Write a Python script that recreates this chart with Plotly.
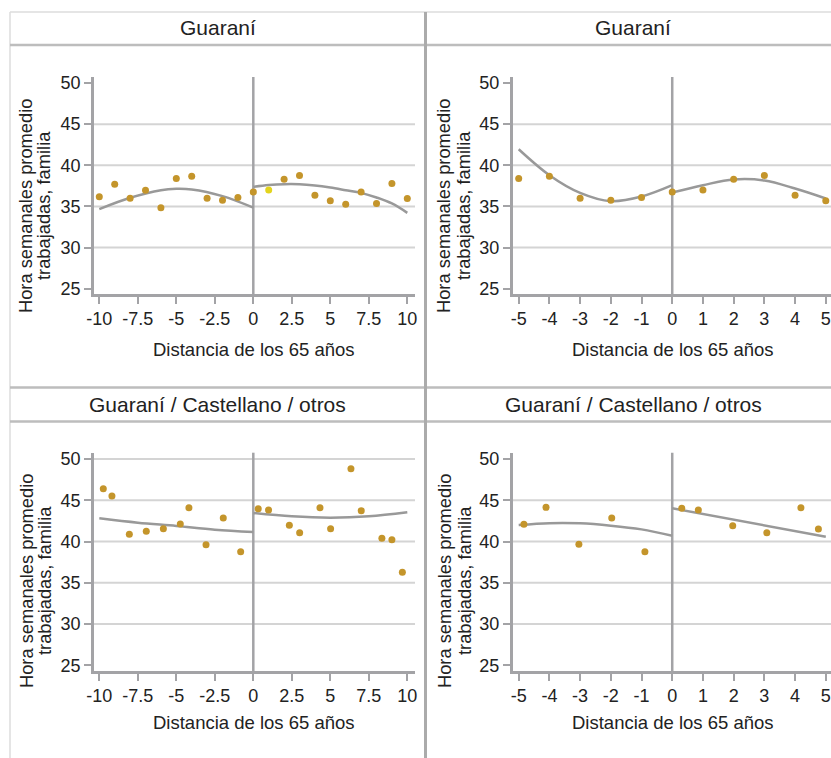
import plotly.graph_objects as go

# ---------------- data ----------------
PANEL_TITLES = ["Guaraní", "Guaraní", "Guaraní / Castellano / otros", "Guaraní / Castellano / otros"]
Y_TITLE_LINES = ["Hora semanales promedio", "trabajadas, familia"]
X_TITLE = "Distancia de los 65 años"

Y_TICKS = [25, 30, 35, 40, 45, 50]
X_TICKS_WIDE = [-10, -7.5, -5, -2.5, 0, 2.5, 5, 7.5, 10]
X_TICKTEXT_WIDE = ["-10", "-7.5", "-5", "-2.5", "0", "2.5", "5", "7.5", "10"]
X_TICKS_NARROW = [-5, -4, -3, -2, -1, 0, 1, 2, 3, 4, 5]
X_TICKTEXT_NARROW = ["-5", "-4", "-3", "-2", "-1", "0", "1", "2", "3", "4", "5"]

# Panel 1: Guaraní, bandwidth 10
P1_X = [-10, -9, -8, -7, -6, -5, -4, -3, -2, -1, 0, 1, 2, 3, 4, 5, 6, 7, 8, 9, 10]
P1_Y = [36.17, 37.70, 36.00, 36.98, 34.83, 38.40, 38.68, 36.00, 35.76, 36.09,
        36.77, 37.00, 38.30, 38.76, 36.37, 35.68, 35.28, 36.77, 35.36, 37.79, 35.97]
P1_HIGHLIGHT_X = [1]
P1_FIT_L_X = [-10, -8, -6, -5, -4, -2, 0]
P1_FIT_L_Y = [34.67, 36.05, 36.98, 37.14, 37.06, 36.25, 34.85]
P1_FIT_R_X = [0, 1, 2, 3, 4, 5, 6, 7, 8, 9, 10]
P1_FIT_R_Y = [37.38, 37.60, 37.71, 37.70, 37.55, 37.30, 36.98, 36.65, 36.09, 35.36, 34.22]

# Panel 2: Guaraní, bandwidth 5
P2_X = [-5, -4, -3, -2, -1, 0, 1, 2, 3, 4, 5]
P2_Y = [38.40, 38.68, 36.00, 35.76, 36.09, 36.77, 37.00, 38.30, 38.76, 36.37, 35.68]
P2_FIT_L_X = [-5, -4, -3, -2, -1, 0]
P2_FIT_L_Y = [41.95, 38.80, 36.65, 35.64, 36.20, 37.58]
P2_FIT_R_X = [0, 1, 2, 3, 4, 5]
P2_FIT_R_Y = [36.70, 37.58, 38.27, 38.15, 37.18, 35.97]

# Panel 3: Guaraní / Castellano / otros, bandwidth 10
P3_X = [-9.74, -9.18, -8.05, -6.95, -5.84, -4.74, -4.18, -3.07, -1.95, -0.82,
        0.32, 0.99, 2.34, 3.01, 4.33, 5.02, 6.34, 7.01, 8.35, 9.00, 9.68]
P3_Y = [46.40, 45.52, 40.87, 41.23, 41.55, 42.12, 44.10, 39.62, 42.85, 38.77,
        43.98, 43.82, 41.96, 41.07, 44.10, 41.55, 48.83, 43.74, 40.38, 40.22, 36.27]
P3_FIT_L_X = [-10, -7.5, -5, -2.5, 0]
P3_FIT_L_Y = [42.81, 42.28, 41.88, 41.43, 41.15]
P3_FIT_R_X = [0, 2.5, 5, 7.5, 10]
P3_FIT_R_Y = [43.45, 43.05, 42.89, 43.05, 43.54]

# Panel 4: Guaraní / Castellano / otros, bandwidth 5
P4_X = [-4.83, -4.11, -3.04, -1.97, -0.89, 0.31, 0.85, 1.97, 3.08, 4.19, 4.76]
P4_Y = [42.08, 44.14, 39.66, 42.85, 38.77, 44.02, 43.82, 41.92, 41.07, 44.10, 41.52]
P4_FIT_L_X = [-5, -4, -3, -2, -1, 0]
P4_FIT_L_Y = [42.00, 42.22, 42.20, 41.92, 41.47, 40.70]
P4_FIT_R_X = [0, 5]
P4_FIT_R_Y = [44.02, 40.58]

GRID_TOP = [30, 35, 40, 45]
GRID_P3 = [30, 35, 40, 45, 50]

# ---------------- styling / layout ----------------
W, H = 831, 758
FONT = "Liberation Sans, Arial, sans-serif"
GOLD = "#c4952b"
YELLOW = "#e3d41d"
CURVE = "#999999"
AXIS = "#a3a3a6"
GRID = "#d4d4d4"
FRAME_LIGHT = "#dcdcdc"
FRAME_MID = "#bdbdbd"
TEXT = "#222222"


def fx(p):
    return p / W


def fy(p):
    return 1 - p / H


panels = [
    dict(sfx="", xs=P1_X, ys=P1_Y, fits=[(P1_FIT_L_X, P1_FIT_L_Y), (P1_FIT_R_X, P1_FIT_R_Y)],
         xdom=(94, 415), ydom=(77, 294), xr=[-10.344, 10.5], yr=[24.36, 50.73],
         ticks=(X_TICKS_WIDE, X_TICKTEXT_WIDE), grid=GRID_TOP, hl=P1_HIGHLIGHT_X,
         title=PANEL_TITLES[0], tcx=217.5, tcy=28, xt=(254, 350), yt=(26, 44, 206)),
    dict(sfx="2", xs=P2_X, ys=P2_Y, fits=[(P2_FIT_L_X, P2_FIT_L_Y), (P2_FIT_R_X, P2_FIT_R_Y)],
         xdom=(512.7, 831), ydom=(77, 294), xr=[-5.195, 5.17], yr=[24.36, 50.73],
         ticks=(X_TICKS_NARROW, X_TICKTEXT_NARROW), grid=GRID_TOP, hl=[],
         title=PANEL_TITLES[1], tcx=633, tcy=28, xt=(672.5, 350), yt=(444, 464, 206)),
    dict(sfx="3", xs=P3_X, ys=P3_Y, fits=[(P3_FIT_L_X, P3_FIT_L_Y), (P3_FIT_R_X, P3_FIT_R_Y)],
         xdom=(94, 415), ydom=(452.7, 671), xr=[-10.344, 10.5], yr=[24.31, 50.76],
         ticks=(X_TICKS_WIDE, X_TICKTEXT_WIDE), grid=GRID_P3, hl=[],
         title=PANEL_TITLES[2], tcx=217.5, tcy=404, xt=(254, 722), yt=(26, 44, 581)),
    dict(sfx="4", xs=P4_X, ys=P4_Y, fits=[(P4_FIT_L_X, P4_FIT_L_Y), (P4_FIT_R_X, P4_FIT_R_Y)],
         xdom=(512.7, 831), ydom=(452.7, 671), xr=[-5.195, 5.17], yr=[24.31, 50.76],
         ticks=(X_TICKS_NARROW, X_TICKTEXT_NARROW), grid=GRID_TOP, hl=[],
         title=PANEL_TITLES[3], tcx=633, tcy=404, xt=(672.5, 722), yt=(444, 464, 581)),
]

fig = go.Figure()
shapes = []
annotations = []
layout_axes = {}

for p in panels:
    s = p["sfx"]
    xa, ya = "x" + s, "y" + s
    for fxs, fys in p["fits"]:
        fig.add_trace(go.Scatter(x=fxs, y=fys, mode="lines", xaxis=xa, yaxis=ya,
                                 line=dict(color=CURVE, width=2.5, shape="spline", smoothing=1.0),
                                 hoverinfo="skip", showlegend=False, cliponaxis=False))
    colors = [YELLOW if x in p["hl"] else GOLD for x in p["xs"]]
    fig.add_trace(go.Scatter(x=p["xs"], y=p["ys"], mode="markers", xaxis=xa, yaxis=ya,
                             marker=dict(color=colors, size=7, line=dict(width=0)),
                             showlegend=False, cliponaxis=False))

    layout_axes["xaxis" + s] = dict(
        domain=[fx(p["xdom"][0]), fx(p["xdom"][1])], range=p["xr"], anchor=ya,
        tickmode="array", tickvals=p["ticks"][0], ticktext=p["ticks"][1],
        showline=True, linecolor=AXIS, linewidth=2.5, ticks="outside", ticklen=7,
        tickwidth=2, tickcolor=AXIS, showgrid=False, zeroline=False, automargin=False,
        tickfont=dict(family=FONT, size=18, color=TEXT), fixedrange=True)
    layout_axes["yaxis" + s] = dict(
        domain=[fy(p["ydom"][1]), fy(p["ydom"][0])], range=p["yr"], anchor=xa,
        tickmode="array", tickvals=Y_TICKS,
        showline=True, linecolor=AXIS, linewidth=2.5, ticks="outside", ticklen=7,
        tickwidth=2, tickcolor=AXIS, showgrid=False, zeroline=False, automargin=False,
        tickfont=dict(family=FONT, size=18, color=TEXT), fixedrange=True)

    for g in p["grid"]:
        shapes.append(dict(type="line", xref=xa + " domain", yref=ya, x0=0, x1=1, y0=g, y1=g,
                           line=dict(color=GRID, width=2), layer="below"))
    shapes.append(dict(type="line", xref=xa, yref=ya + " domain", x0=0, x1=0, y0=0, y1=1,
                       line=dict(color=AXIS, width=2.5), layer="below"))

    annotations.append(dict(text=p["title"], x=fx(p["tcx"]), y=fy(p["tcy"]), xref="paper", yref="paper",
                            showarrow=False, xanchor="center", yanchor="middle",
                            font=dict(family=FONT, size=21, color=TEXT)))
    annotations.append(dict(text=X_TITLE, x=fx(p["xt"][0]), y=fy(p["xt"][1]), xref="paper", yref="paper",
                            showarrow=False, xanchor="center", yanchor="middle",
                            font=dict(family=FONT, size=18.5, color=TEXT)))
    for line_text, cx in zip(Y_TITLE_LINES, p["yt"][:2]):
        annotations.append(dict(text=line_text, x=fx(cx), y=fy(p["yt"][2]), xref="paper", yref="paper",
                                showarrow=False, xanchor="center", yanchor="middle", textangle=-90,
                                font=dict(family=FONT, size=18.3, color=TEXT)))


def pline(x0, y0, x1, y1, color, width):
    return dict(type="line", xref="paper", yref="paper", x0=fx(x0), y0=fy(y0), x1=fx(x1), y1=fy(y1),
                line=dict(color=color, width=width), layer="above")


shapes += [
    pline(10, 12, 831, 12, FRAME_LIGHT, 1.5),
    pline(10, 12, 10, 758, FRAME_LIGHT, 1.5),
    pline(10, 45, 831, 45, FRAME_MID, 2.5),
    pline(10, 387.5, 831, 387.5, FRAME_MID, 2.5),
    pline(10, 421.5, 831, 421.5, FRAME_MID, 2.5),
    pline(425.5, 12, 425.5, 758, "#ababab", 3),
]

fig.update_layout(
    template="none",
    width=W, height=H, margin=dict(l=0, r=0, t=0, b=0, autoexpand=False),
    paper_bgcolor="white", plot_bgcolor="rgba(0,0,0,0)",
    showlegend=False, shapes=shapes, annotations=annotations,
    font=dict(family=FONT, color=TEXT),
    **layout_axes,
)

fig.write_html("out.html", config={"displayModeBar": False},
               post_script="document.body.style.margin='0px';document.body.style.overflow='hidden';")
